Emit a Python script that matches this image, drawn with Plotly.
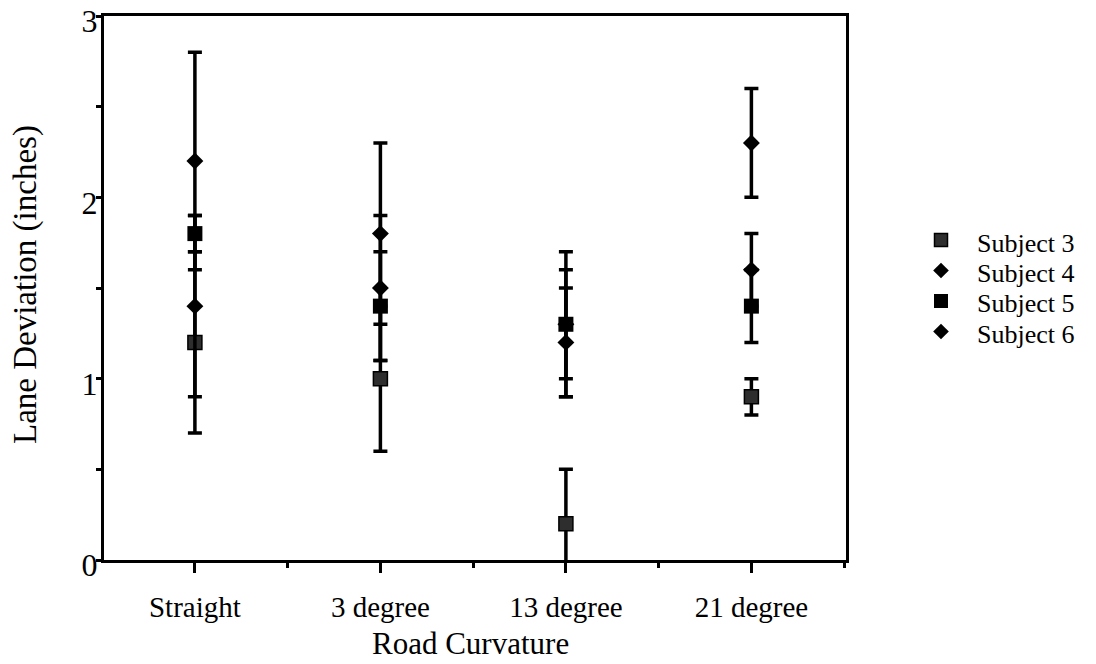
import plotly.graph_objects as go

# Road curvature conditions and per-subject lane deviation (mean ± spread, inches)
categories = ["Straight", "3 degree", "13 degree", "21 degree"]
subjects = ["Subject 3", "Subject 4", "Subject 5", "Subject 6"]

subject3_mean = [1.2, 1.0, 0.2, 0.9]
subject3_err = [0.5, 0.4, 0.3, 0.1]
subject4_mean = [1.4, 1.5, 1.3, 1.6]
subject4_err = [0.5, 0.4, 0.4, 0.2]
subject5_mean = [1.8, 1.4, 1.3, 1.4]
subject5_err = [0.1, 0.3, 0.3, 0.2]
subject6_mean = [2.2, 1.8, 1.2, 2.3]
subject6_err = [0.6, 0.5, 0.3, 0.3]

y_ticks = [0, 1, 2, 3]

means = [subject3_mean, subject4_mean, subject5_mean, subject6_mean]
errors = [subject3_err, subject4_err, subject5_err, subject6_err]

# Figure geometry in pixels
W, H = 1096, 664
PLOT_L, PLOT_R, PLOT_T, PLOT_B = 104, 846, 16, 560
FONT = "Liberation Serif"


def fx(p):
    return p / W


def fy(p):
    return 1 - p / H


marker_styles = [
    dict(symbol="square", size=14, color="#2e2e2e", line=dict(color="black", width=1.5)),
    dict(symbol="diamond", size=13, color="black", line=dict(width=0)),
    dict(symbol="square", size=15, color="black", line=dict(width=0)),
    dict(symbol="diamond", size=13, color="black", line=dict(width=0)),
]

x_pos = list(range(len(categories)))

fig = go.Figure()

for name, m, e, style in zip(subjects, means, errors, marker_styles):
    fig.add_trace(go.Scatter(
        x=x_pos, y=m, name=name, mode="markers",
        marker=style,
        error_y=dict(type="data", array=e, visible=True,
                     color="black", thickness=3.5, width=7),
        showlegend=False,
    ))

# Legend drawn as a small marker column with text labels beside it
LEG_X0, LEG_X1 = 930, 952
LEG_ROW0, LEG_PITCH = 240, 30.5
n = len(subjects)
leg_top = LEG_ROW0 - LEG_PITCH / 2
leg_bot = LEG_ROW0 + LEG_PITCH * (n - 0.5)

legend_marker_styles = [dict(s, size=s["size"] - 1) for s in marker_styles]

for i, (name, style) in enumerate(zip(subjects, legend_marker_styles)):
    fig.add_trace(go.Scatter(
        x=[0], y=[i], mode="markers", marker=style,
        xaxis="x2", yaxis="y2", showlegend=False, hoverinfo="skip",
    ))

annotations = []
for i, name in enumerate(subjects):
    annotations.append(dict(
        text=name, x=fx(975), y=fy(LEG_ROW0 + 3 + LEG_PITCH * i),
        xref="paper", yref="paper", xanchor="left", yanchor="middle",
        showarrow=False, font=dict(family=FONT, size=26, color="black"),
    ))

# Axis titles
annotations.append(dict(
    text="Road Curvature", x=fx(470), y=fy(663),
    xref="paper", yref="paper", xanchor="center", yanchor="bottom",
    showarrow=False, font=dict(family=FONT, size=31, color="black"),
))
annotations.append(dict(
    text="Lane Deviation (inches)", x=fx(25), y=fy(285), textangle=-90,
    xref="paper", yref="paper", xanchor="center", yanchor="middle",
    showarrow=False, font=dict(family=FONT, size=33, color="black"),
))

fig.update_layout(
    width=W, height=H,
    margin=dict(l=0, r=0, t=0, b=0, autoexpand=False),
    paper_bgcolor="white", plot_bgcolor="white",
    font=dict(family=FONT, color="black"),
    annotations=annotations,
    xaxis=dict(
        domain=[fx(PLOT_L), fx(PLOT_R)],
        range=[-0.49, len(categories) - 0.49],
        tickmode="array", tickvals=x_pos, ticktext=categories,
        ticks="outside", ticklen=10, tickwidth=3, tickcolor="black",
        minor=dict(tickvals=[0.5, 1.5, 2.5, 3.5], ticks="outside",
                   ticklen=5, tickwidth=3, tickcolor="black"),
        showline=True, linewidth=3, linecolor="black", mirror=True,
        showgrid=False, zeroline=False, automargin=False,
        tickfont=dict(family=FONT, size=29, color="black"),
        ticklabelstandoff=9,
        anchor="y",
    ),
    yaxis=dict(
        domain=[fy(PLOT_B), fy(PLOT_T)],
        range=[0, 3],
        tickmode="array", tickvals=y_ticks,
        ticks="outside", ticklen=5, tickwidth=3, tickcolor="black",
        minor=dict(tickvals=[0.5, 1.5, 2.5], ticks="outside",
                   ticklen=5, tickwidth=3, tickcolor="black"),
        showline=True, linewidth=3, linecolor="black", mirror=True,
        showgrid=False, zeroline=False, automargin=False,
        tickfont=dict(family=FONT, size=32, color="black"),
        ticklabelstandoff=-8, ticklabelshift=5,
        anchor="x",
    ),
    xaxis2=dict(domain=[fx(LEG_X0), fx(LEG_X1)], range=[-1, 1],
                visible=False, anchor="y2", fixedrange=True, automargin=False),
    yaxis2=dict(domain=[fy(leg_bot), fy(leg_top)], range=[n - 0.5, -0.5],
                visible=False, anchor="x2", fixedrange=True, automargin=False),
)

fig.write_html("out.html")
